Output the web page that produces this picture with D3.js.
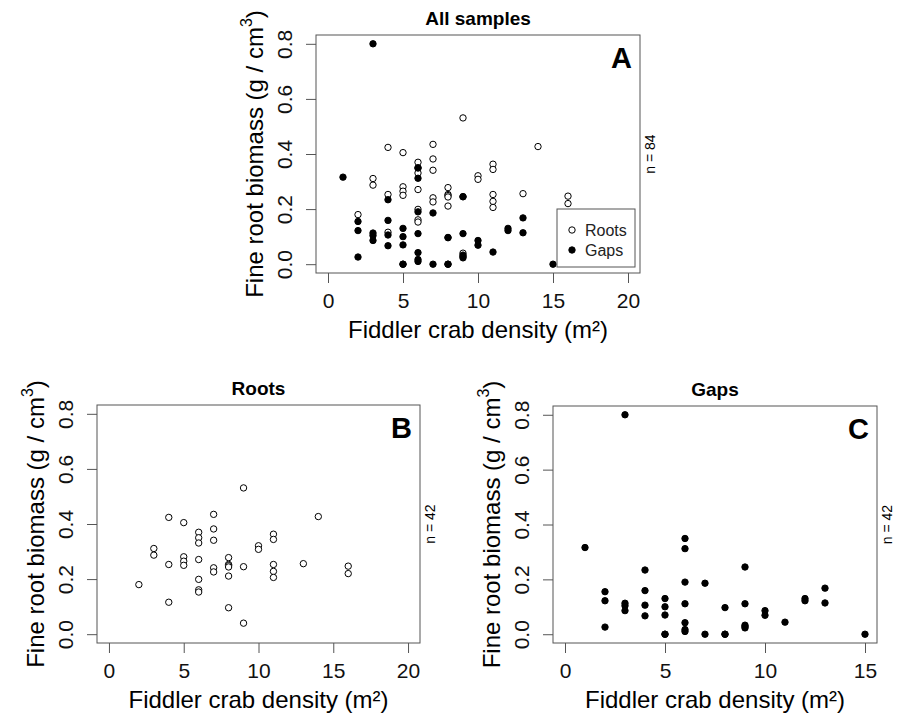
<!DOCTYPE html>
<html>
<head>
<meta charset="utf-8">
<script src="https://cdn.jsdelivr.net/npm/d3@7"></script>
<style>
  body { margin: 0; background: #fff; }
  svg { display: block; font-family: "Liberation Sans", Arial, sans-serif; }
  .tick line { stroke: #555; }
  .tick text { fill: #111; font-size: 21px; }
</style>
</head>
<body>
<div id="chart"></div>
<script>
// fine root biomass vs fiddler crab density
const rootsX = [2,3,3,4,4,4,5,5,5,5,6,6,6,6,6,6,6,7,7,7,7,7,8,8,8,8,8,8,9,9,9,10,10,11,11,11,11,11,13,14,16,16];
const rootsY = [0.18,0.311,0.287,0.424,0.253,0.116,0.405,0.281,0.265,0.25,0.37,0.35,0.331,0.271,0.199,0.161,0.153,
  0.435,0.382,0.341,0.241,0.226,0.278,0.253,0.249,0.244,0.211,0.096,0.531,0.245,0.04,0.321,0.308,
  0.363,0.344,0.253,0.228,0.206,0.256,0.427,0.247,0.22];
const gapsX = [1,2,2,2,3,3,3,3,4,4,4,4,5,5,5,5,5,6,6,6,6,6,6,6,7,7,8,8,8,9,9,9,9,9,10,10,11,12,12,13,13,15];
const gapsY = [0.316,0.155,0.122,0.026,0.80,0.113,0.104,0.086,0.234,0.159,0.106,0.067,0.130,0.100,0.070,0,0,
  0.349,0.312,0.190,0.111,0.042,0.017,0.010,0.186,0,0.097,0,0,0.245,0.111,0.033,0.028,0.023,0.086,0.069,
  0.044,0.130,0.122,0.168,0.114,0];
const xTicksWide = [0,5,10,15,20];
const xTicksGaps = [0,5,10,15];
const yTicks = [0,0.2,0.4,0.6,0.8];
const legendLabels = ["Roots","Gaps"];

const width = 906, height = 715;
const svg = d3.select("#chart").append("svg").attr("width", width).attr("height", height);

const roots = rootsX.map((x,i) => ({x: x, y: rootsY[i]}));
const gaps = gapsX.map((x,i) => ({x: x, y: gapsY[i]}));

function panel(opt){
    const g = svg.append("g");
    const xr = opt.xmax - opt.xmin, yr = 0.8;
    const x = d3.scaleLinear().domain([opt.xmin - 0.04*xr, opt.xmax + 0.04*xr]).range([opt.x0, opt.x1]);
    const y = d3.scaleLinear().domain([-0.04*yr, 0.8 + 0.04*yr]).range([opt.y1, opt.y0]);

    let xa = g.append("g").attr("transform", "translate(0," + opt.y1 + ")")
        .call(d3.axisBottom(x).tickValues(opt.xTicks).tickSize(10).tickPadding(6).tickFormat(d3.format("d")));
    xa.select(".domain").remove();
    xa.selectAll("text").attr("dy", "0.71em").attr("y", 20);

    let ya = g.append("g").attr("transform", "translate(" + opt.x0 + ",0)")
        .call(d3.axisLeft(y).tickValues(yTicks).tickSize(10).tickFormat(d3.format(".1f")));
    ya.select(".domain").remove();
    ya.selectAll("text")
        .attr("transform", "rotate(-90)")
        .attr("x", 0).attr("y", -24).attr("dy", 0)
        .attr("text-anchor", "middle");

    g.append("rect")
        .attr("x", opt.x0).attr("y", opt.y0)
        .attr("width", opt.x1 - opt.x0).attr("height", opt.y1 - opt.y0)
        .attr("fill", "none").attr("stroke", "#555").attr("stroke-width", 1);

    // title
    g.append("text")
        .attr("x", (opt.x0 + opt.x1)/2).attr("y", opt.y0 - 10)
        .attr("text-anchor", "middle").attr("font-weight", "bold").attr("font-size", 19)
        .text(opt.title);

    // panel letter
    g.append("text")
        .attr("x", opt.x1 - 8).attr("y", opt.y0 + 33)
        .attr("text-anchor", "end").attr("font-weight", "bold").attr("font-size", 29)
        .text(opt.letter);

    // n label
    g.append("text")
        .attr("transform", "translate(" + (opt.x1 + 15) + "," + ((opt.y0 + opt.y1)/2) + ") rotate(-90)")
        .attr("text-anchor", "middle").attr("font-size", 14)
        .text(opt.n);

    // x label
    g.append("text")
        .attr("x", (opt.x0 + opt.x1)/2).attr("y", opt.y1 + 65)
        .attr("text-anchor", "middle").attr("font-size", 24)
        .text("Fiddler crab density (m²)");

    // y label
    let yl = g.append("text")
        .attr("transform", "translate(" + (opt.x0 - 53) + "," + ((opt.y0 + opt.y1)/2) + ") rotate(-90)")
        .attr("text-anchor", "middle").attr("font-size", 24);
    yl.append("tspan").text("Fine root biomass (g / cm");
    yl.append("tspan").attr("font-size", 16).attr("dy", -11).text("3");
    yl.append("tspan").attr("dy", 11).text(")");

    for(let s of opt.series){
        g.append("g").selectAll("circle")
            .data(s.data)
            .enter()
            .append("circle")
            .attr("cx", d => x(d.x))
            .attr("cy", d => y(d.y))
            .attr("r", 3.2)
            .attr("fill", s.filled ? "#000" : "#fff")
            .attr("stroke", "#000")
            .attr("stroke-width", 1);
    }
    return {g: g, x: x, y: y};
}

const pA = panel({x0: 316, x1: 640, y0: 35, y1: 273, xmin: 0, xmax: 20, xTicks: xTicksWide,
    title: "All samples", letter: "A", n: "n = 84",
    series: [{data: roots, filled: false}, {data: gaps, filled: true}]});
panel({x0: 97, x1: 420, y0: 405, y1: 643, xmin: 0, xmax: 20, xTicks: xTicksWide,
    title: "Roots", letter: "B", n: "n = 42",
    series: [{data: roots, filled: false}]});
panel({x0: 553, x1: 877, y0: 406, y1: 643, xmin: 0, xmax: 15, xTicks: xTicksGaps,
    title: "Gaps", letter: "C", n: "n = 42",
    series: [{data: gaps, filled: true}]});

// legend in panel A
const lg = pA.g.append("g");
lg.append("rect").attr("x", 557).attr("y", 209).attr("width", 78).attr("height", 58)
    .attr("fill", "#fff").attr("stroke", "#555");
lg.selectAll("circle").data(legendLabels).enter().append("circle")
    .attr("cx", 572).attr("cy", (d,i) => 230 + i*20).attr("r", 3.2)
    .attr("fill", (d,i) => i === 1 ? "#000" : "#fff").attr("stroke", "#000");
lg.selectAll("text").data(legendLabels).enter().append("text")
    .attr("x", 585).attr("y", (d,i) => 230 + i*20).attr("dy", "0.35em")
    .attr("font-size", 16).attr("fill", "#222")
    .text(d => d);
</script>
</body>
</html>
